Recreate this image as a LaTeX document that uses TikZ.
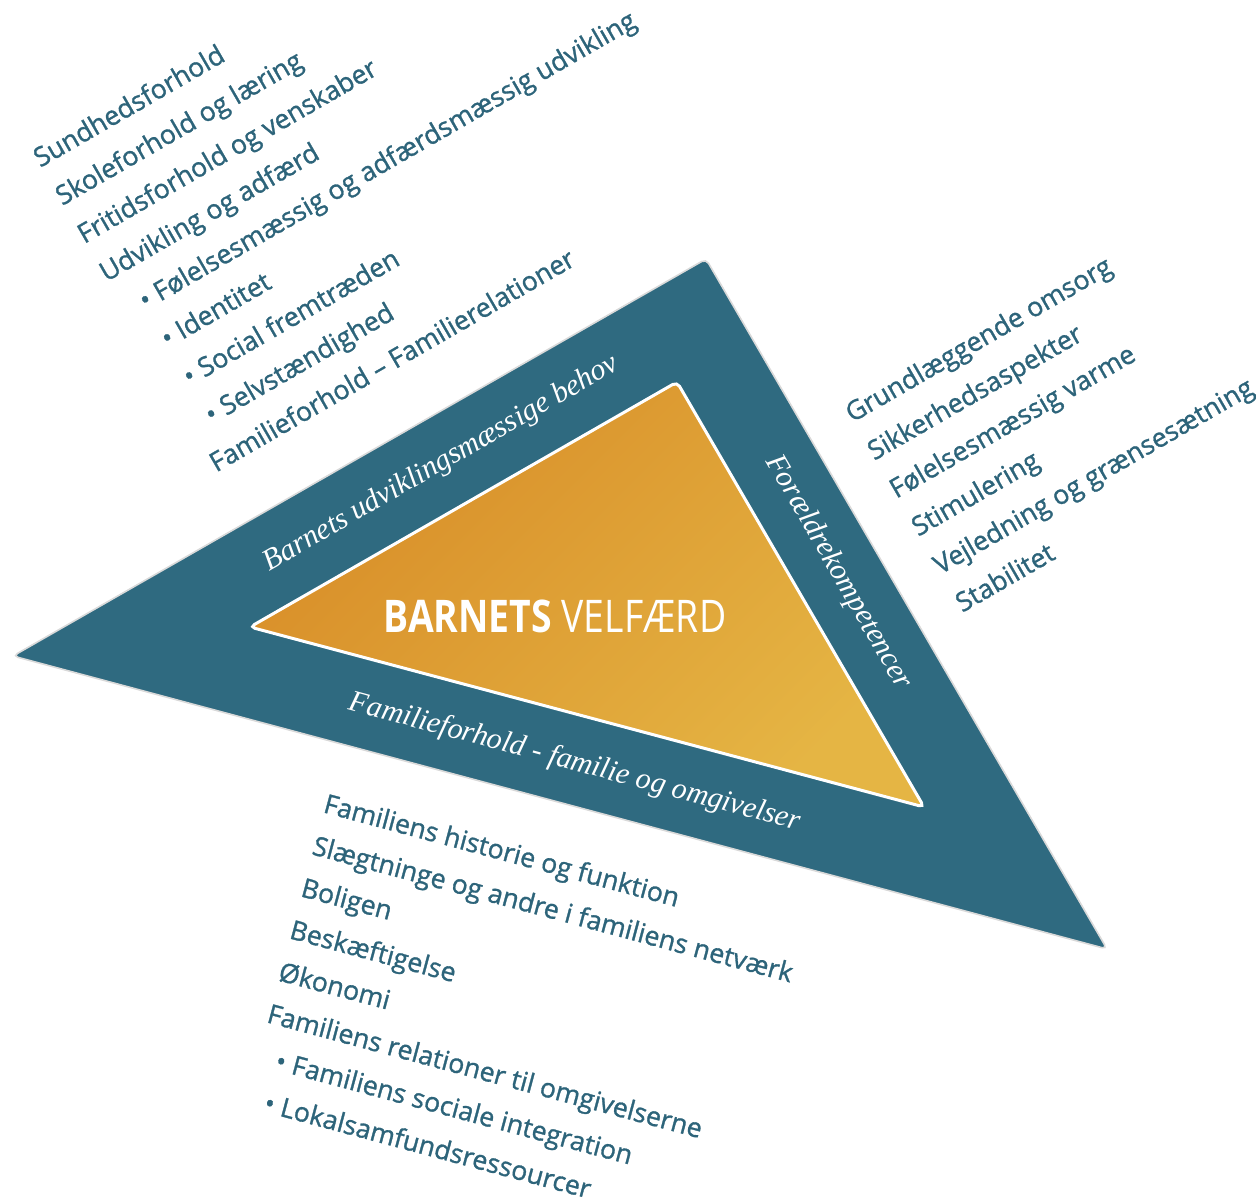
\documentclass[tikz,border=0pt]{standalone}
\usepackage{fontspec}
\usetikzlibrary{calc}

\newfontfamily\listfont[FakeBold=1.1]{Open Sans}
\newfontfamily\bandfont{Liberation Serif}
\newfontfamily\titlefont[FakeStretch=0.83]{Open Sans}

\definecolor{bandblue}{RGB}{47,106,128}
\definecolor{listblue}{RGB}{45,100,122}
\definecolor{orangetop}{RGB}{216,141,40}
\definecolor{orangebot}{RGB}{229,181,68}

\newcommand{\itembul}{\hspace*{10pt}\textbullet\ }

\begin{document}
\begin{tikzpicture}[x=0.5pt,y=-0.5pt,
  lst/.style={anchor=base west,inner sep=0pt,text=listblue,font=\listfont\fontsize{13.3}{15}\selectfont},
  upl/.style={lst,rotate=30},
  dnl/.style={lst,rotate=-15},
  band/.style={anchor=base,inner sep=0pt,text=white,font=\bandfont\itshape\fontsize{15}{18}\selectfont}]

\useasboundingbox (0,0) rectangle (1256,1197);

% the two triangles
\coordinate (A) at (13,656);
\coordinate (B) at (706,259);
\coordinate (C) at (1107,949);
\coordinate (a) at (250,627);
\coordinate (b) at (677,382);
\coordinate (c) at (924,807);

\filldraw[fill=bandblue,draw=black!15,line width=0.8pt,rounded corners=2.5pt] (A) -- (B) -- (C) -- cycle;
\draw[draw=white,line width=1.5pt,rounded corners=2.5pt,top color=orangetop,bottom color=orangebot,shading angle=45]
  (a) -- (b) -- (c) -- cycle;

\node[anchor=base,inner sep=0pt,text=white,font=\titlefont\fontsize{22.5}{26}\selectfont] (velf) at (555,632)
  {\textbf{BARNETS} VELFÆRD};

% labels in the band
\node[band,rotate=30]  (behov) at (445,470) {Barnets udviklingsmæssige behov};
\node[band,rotate=-60] (komp)  at (832,576) {Forældrekompetencer};
\node[band,rotate=-15] (omgiv) at (573,770) {Familieforhold - familie og omgivelser};

% upper left list
\node[upl] (sund)   at (40,168)    {Sundhedsforhold};
\node[upl] (skole)  at (62,206.1)  {Skoleforhold og læring};
\node[upl] (fritid) at (84,244.2)  {Fritidsforhold og venskaber};
\node[upl] (udv)    at (106,282.3) {Udvikling og adfærd};
\node[upl] (foel)   at (128,320.4) {\itembul Følelsesmæssig og adfærdsmæssig udvikling};
\node[upl] (ident)  at (150,358.5) {\itembul Identitet};
\node[upl] (social) at (172,396.6) {\itembul Social fremtræden};
\node[upl] (selv)   at (194,434.7) {\itembul Selvstændighed};
\node[upl] (famrel) at (216,472.8) {Familieforhold – Familierelationer};

% right list
\node[upl] (omsorg) at (852,423) {Grundlæggende omsorg};
\node[upl] (sikker) at (874,461) {Sikkerhedsaspekter};
\node[upl] (varme)  at (896,499) {Følelsesmæssig varme};
\node[upl] (stim)   at (918,537) {Stimulering};
\node[upl] (vejl)   at (940,575) {Vejledning og grænsesætning};
\node[upl] (stab)   at (962,613) {Stabilitet};

% lower list
\node[dnl] (hist)   at (322,812)    {Familiens historie og funktion};
\node[dnl] (slaegt) at (310.7,854)  {Slægtninge og andre i familiens netværk};
\node[dnl] (bolig)  at (299.4,896)  {Boligen};
\node[dnl] (besk)   at (288.1,938)  {Beskæftigelse};
\node[dnl] (oekon)  at (276.8,980)  {Økonomi};
\node[dnl] (relat)  at (265.5,1022) {Familiens relationer til omgivelserne};
\node[dnl] (integr) at (254.2,1064) {\itembul Familiens sociale integration};
\node[dnl] (lokal)  at (242.9,1106) {\itembul Lokalsamfundsressourcer};

\end{tikzpicture}
\end{document}
